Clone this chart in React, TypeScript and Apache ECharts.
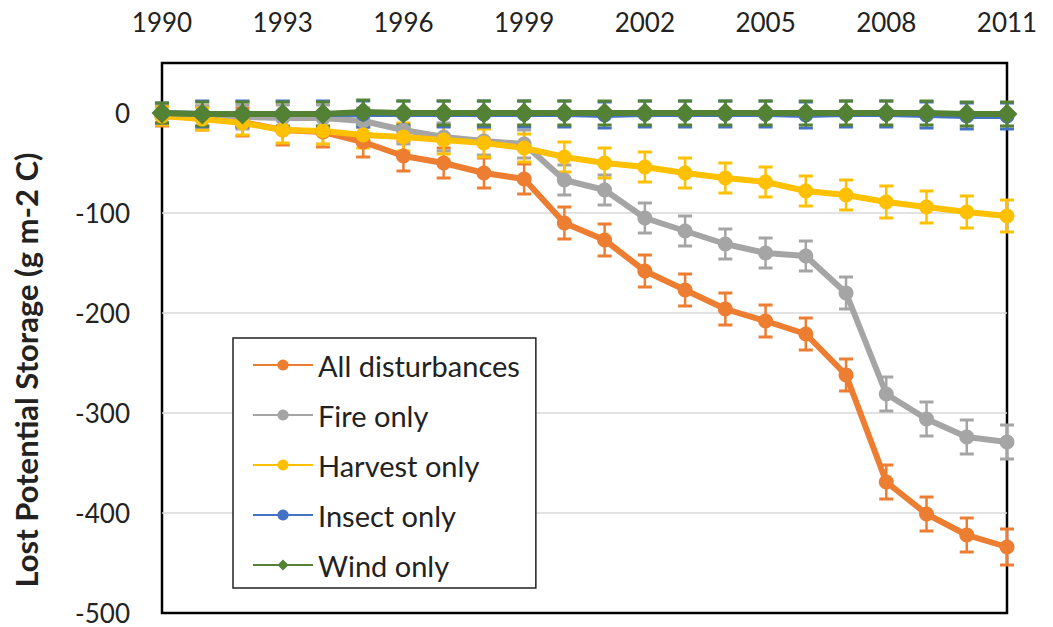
import React, { useEffect, useRef } from "react";
import * as echarts from "echarts";

const years = ["1990","1991","1992","1993","1994","1995","1996","1997","1998","1999","2000","2001","2002","2003","2004","2005","2006","2007","2008","2009","2010","2011"];

const allDist = [-3, -5, -9, -17, -19, -29, -43, -50, -60, -66, -110, -127, -158, -177, -196, -208, -221, -262, -369, -401, -422, -434];
const allErr = [10, 12, 14, 15, 15, 15, 15, 15, 15, 15, 16, 16, 16, 16, 16, 16, 16, 16, 17, 17, 17, 18];

const fireOnly = [-2, -3, -4, -5, -5, -8, -17, -24, -28, -31, -67, -77, -105, -118, -131, -140, -143, -180, -281, -306, -324, -329];
const fireErr = [8, 10, 12, 13, 13, 13, 14, 14, 14, 14, 15, 15, 15, 15, 15, 15, 15, 16, 17, 17, 17, 17];

const harvestOnly = [-3, -6, -10, -17, -18, -22, -24, -27, -30, -35, -44, -50, -54, -60, -65, -69, -78, -82, -89, -94, -99, -103];
const harvestErr = [9, 11, 12, 13, 13, 13, 14, 14, 14, 14, 15, 15, 15, 15, 15, 15, 15, 15, 16, 16, 16, 16];

const insectOnly = [0, -1, -1, -1, -1, -1, -1, -1, -1, -1, -1, -2, -1, -1, -1, -1, -2, -1, -1, -2, -3, -3];
const insectErr = [10, 13, 13, 13, 13, 13, 13, 13, 13, 13, 13, 13, 13, 13, 13, 13, 13, 13, 13, 13, 13, 13];

const windOnly = [0, -1, -1, -1, -1, 1, 0, 0, 0, 0, 0, 0, 0, 0, 0, 0, 0, 0, 0, 0, -1, -1];
const windErr = [10, 12, 12, 12, 12, 12, 12, 12, 12, 12, 12, 12, 12, 12, 12, 12, 12, 12, 12, 12, 12, 12];

const yTicks = { min: -500, max: 50, interval: 100 };

const FONT = "Lato";

type S = { name: string; data: number[]; err: number[]; color: string; symbol: string; size: number };

const seriesDefs: S[] = [
  { name: "All disturbances", data: allDist, err: allErr, color: "#ED7D31", symbol: "circle", size: 15 },
  { name: "Fire only", data: fireOnly, err: fireErr, color: "#A5A5A5", symbol: "circle", size: 15 },
  { name: "Harvest only", data: harvestOnly, err: harvestErr, color: "#FFC000", symbol: "circle", size: 15 },
  { name: "Insect only", data: insectOnly, err: insectErr, color: "#4472C4", symbol: "circle", size: 15 },
  { name: "Wind only", data: windOnly, err: windErr, color: "#548235", symbol: "diamond", size: 21 },
];

export default function App() {
  const ref = useRef<HTMLDivElement>(null);
  useEffect(() => {
    if (!ref.current) return;
    const chart = echarts.init(ref.current, undefined, { renderer: "svg" });
    const series: any[] = [];
    seriesDefs.forEach((s) => {
      series.push({
        type: "custom",
        name: s.name + " err",
        data: s.data.map((v, i) => [i, v - s.err[i], v + s.err[i]]),
        renderItem: (params: any, api: any) => {
          const x = api.value(0);
          const lo = api.coord([x, api.value(1)]);
          const hi = api.coord([x, api.value(2)]);
          const hw = 7;
          return {
            type: "group",
            children: [
              { type: "line", shape: { x1: lo[0], y1: lo[1], x2: hi[0], y2: hi[1] }, style: { stroke: s.color, lineWidth: 2.5 } },
              { type: "line", shape: { x1: lo[0] - hw, y1: lo[1], x2: lo[0] + hw, y2: lo[1] }, style: { stroke: s.color, lineWidth: 3 } },
              { type: "line", shape: { x1: hi[0] - hw, y1: hi[1], x2: hi[0] + hw, y2: hi[1] }, style: { stroke: s.color, lineWidth: 3 } },
            ],
          };
        },
        encode: { x: 0, y: [1, 2] },
        silent: true,
      });
      series.push({
        type: "line",
        name: s.name,
        data: s.data,
        symbol: s.symbol,
        symbolSize: s.size,
        showAllSymbol: true,
        lineStyle: { color: s.color, width: 6 },
        itemStyle: { color: s.color, borderWidth: 0 },
      });
    });
    chart.setOption({
      animation: false,
      backgroundColor: "#fff",
      grid: { left: 162, top: 63, right: 46, bottom: 14, show: true, borderColor: "#000", borderWidth: 2.5, backgroundColor: "#fff" },
      legend: {
        data: seriesDefs.map((s) => s.name),
        orient: "vertical",
        left: 233,
        top: 338,
        itemWidth: 60,
        itemHeight: 14,
        itemGap: 20,
        padding: [12, 16, 8, 19],
        borderColor: "#222",
        borderWidth: 1.5,
        backgroundColor: "#fff",
        textStyle: { fontFamily: FONT, fontSize: 29, color: "#222", lineHeight: 30 },
      },
      xAxis: {
        type: "category",
        data: years,
        position: "top",
        boundaryGap: false,
        axisLine: { show: false },
        axisTick: { show: false },
        axisLabel: { interval: 2, fontFamily: FONT, fontSize: 26, color: "#222", margin: 28 },
        splitLine: { show: false },
      },
      yAxis: {
        type: "value",
        min: yTicks.min,
        max: yTicks.max,
        interval: yTicks.interval,
        name: "Lost Potential Storage (g m-2 C)",
        nameLocation: "middle",
        nameRotate: 90,
        nameGap: 121,
        nameTextStyle: { fontFamily: FONT, fontSize: 31, fontWeight: 700, color: "#222", padding: [0, 64, 0, 0] },
        axisLine: { show: false },
        axisTick: { show: false },
        axisLabel: {
          fontFamily: FONT,
          fontSize: 26,
          lineHeight: 24,
          color: "#222",
          margin: 32,
          showMaxLabel: false,
          formatter: (v: number) => (v > 0 ? "" : String(v)),
        },
        splitLine: { show: true, showMinLine: false, showMaxLine: false, lineStyle: { color: "#d9d9d9", width: 1.5 } },
      },
      series,
    });
    return () => chart.dispose();
  }, []);
  return <div ref={ref} style={{ width: 1053, height: 627, position: "absolute", left: 0, top: 0 }} />;
}
